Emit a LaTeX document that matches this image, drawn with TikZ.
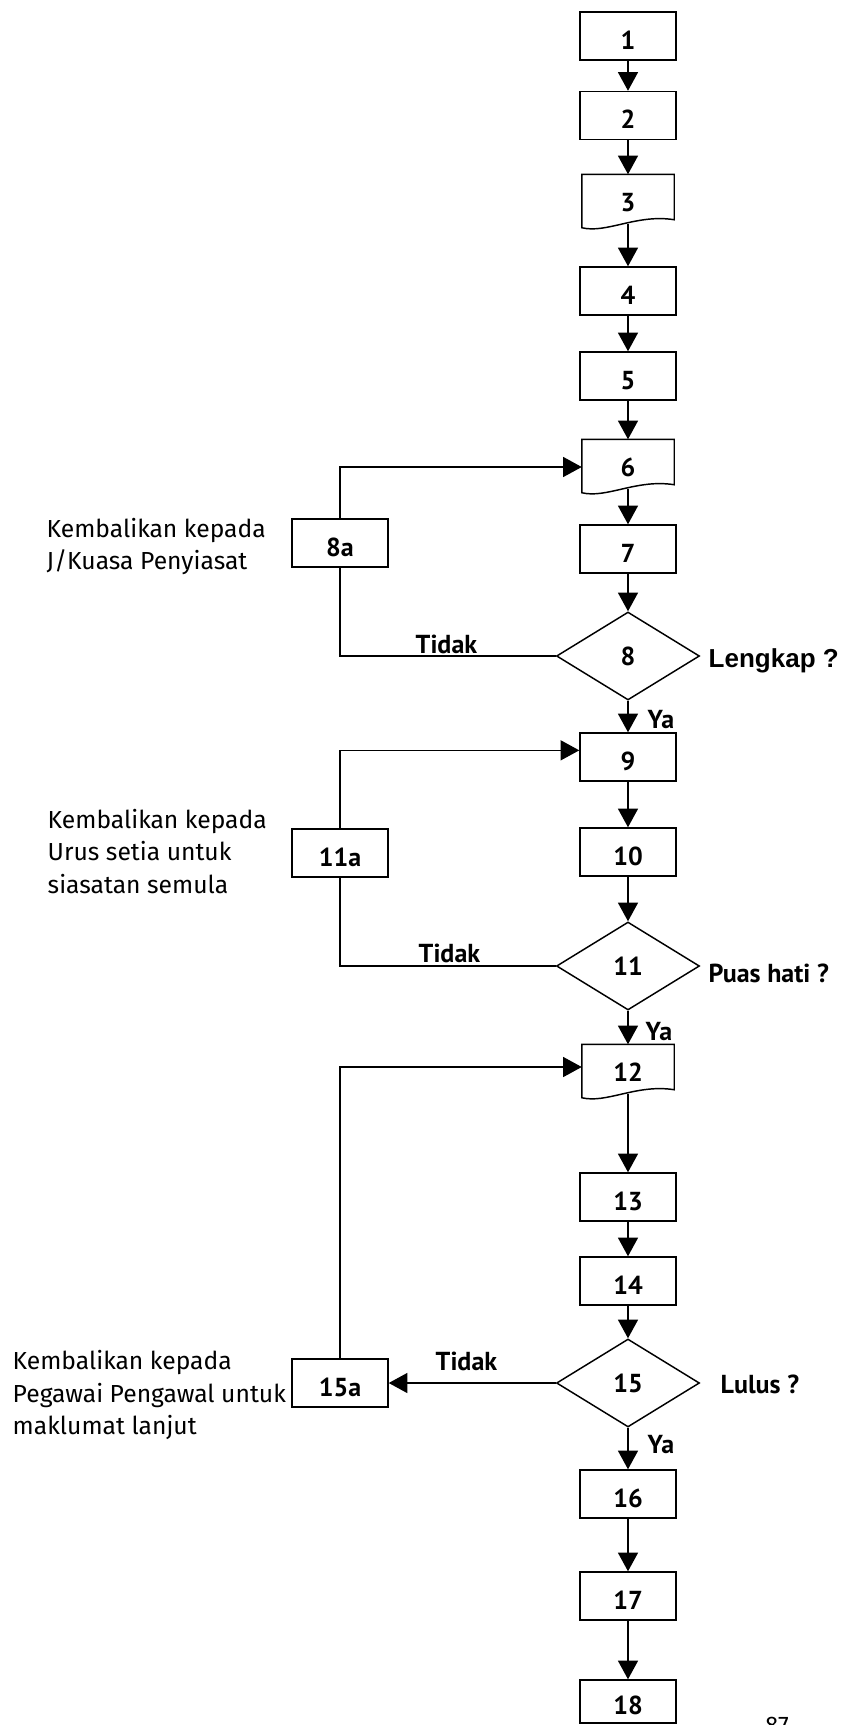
\documentclass[tikz,border=0pt]{standalone}
\usepackage{fontspec}
\setmainfont{Fira Sans}
\newfontfamily\lblfont{PT Sans}
\newfontfamily\arialfont{Liberation Sans}
\usetikzlibrary{arrows.meta,shapes.geometric,calc}
\newcommand{\docoutline}[1]{%
  \draw (#1.north west) -- (#1.north east) -- (#1.south east)
    .. controls ($(#1.south west)+(55,-6)$) and ($(#1.south west)+(25,14)$) ..
    ($(#1.south west)+(0,8)$) -- cycle;}
\begin{document}
\begin{tikzpicture}[x=0.75pt,y=-0.75pt,
  line width=1.1pt,
  arr/.style={-{Triangle[length=14pt,width=15pt]}},
  bfont/.style={font=\lblfont\bfseries\fontsize{19.5}{22}\selectfont},
  boxnode/.style={bfont,draw,rectangle,minimum width=72pt,minimum height=36pt,inner sep=0pt,text height=20.3pt,text depth=0.7pt},
  docnode/.style={bfont,rectangle,minimum width=68.25pt,minimum height=33pt,inner sep=0pt,text height=22.3pt,text depth=0.7pt},
  decnode/.style={bfont,draw,diamond,aspect=1.6,minimum width=107.25pt,minimum height=66pt,inner sep=0pt},
  lbl/.style={bfont,inner sep=0pt,anchor=base west},
  note/.style={font=\fontsize{18.5}{24.4}\selectfont,align=left,anchor=west,inner sep=0pt},
]
\useasboundingbox (0,0) rectangle (843,1725);
\fill[white] (0,0) rectangle (843,1725);

% main column
\node[boxnode] (b1) at (628,36) {1};
\node[boxnode] (b2) at (628,115.5) {2};
\node[docnode] (b3) at (628,197) {3};
\node[boxnode] (b4) at (628,291) {4};
\node[boxnode] (b5) at (628,376) {5};
\node[docnode] (b6) at (628,462) {6};
\node[boxnode] (b7) at (628,549) {7};
\node[decnode] (d8) at (628,656) {8};
\node[boxnode] (b9) at (628,757) {9};
\node[boxnode] (b10) at (628,852) {10};
\node[decnode] (d11) at (628,966) {11};
\node[docnode] (b12) at (628,1067) {12};
\node[boxnode] (b13) at (628,1197) {13};
\node[boxnode] (b14) at (628,1281) {14};
\node[decnode] (d15) at (628,1383) {15};
\node[boxnode] (b16) at (628,1494) {16};
\node[boxnode] (b17) at (628,1596) {17};
\node[boxnode,minimum height=32.25pt] (b18) at (628,1701.5) {18};

\docoutline{b3}
\docoutline{b6}
\docoutline{b12}

% side boxes
\node[boxnode] (b8a) at (340,543) {8a};
\node[boxnode] (b11a) at (340,853) {11a};
\node[boxnode] (b15a) at (340,1383) {15a};

% side notes
\node[note] (t8a) at (46,546.5) {Kembalikan kepada\\J/Kuasa Penyiasat};
\node[note] (t11a) at (47,851.5) {Kembalikan kepada\\Urus setia untuk\\siasatan semula};
\node[note] (t15a) at (12,1395) {Kembalikan kepada\\Pegawai Pengawal untuk\\maklumat lanjut};

% questions and labels
\node[font=\arialfont\bfseries\fontsize{19.5}{22}\selectfont,inner sep=0pt,anchor=base west] (q8) at (708,667) {Lengkap ?};
\node[lbl] (q11) at (708,982) {Puas hati ?};
\node[lbl] (q15) at (720,1393) {Lulus ?};
\node[lbl] (n8) at (415,653) {Tidak};
\node[lbl] (n11) at (418,962) {Tidak};
\node[lbl] (n15) at (435,1370) {Tidak};
\node[lbl] (y8) at (647,728) {Ya};
\node[lbl] (y11) at (645,1040) {Ya};
\node[lbl] (y15) at (647,1453) {Ya};

\node[font=\fontsize{18}{20}\selectfont,inner sep=0pt,anchor=north] (pg) at (777,1716) {87};

% main connectors
\draw[arr] (b1) -- (b2);
\draw[arr] (b2) -- (b3);
\draw[arr] ([yshift=-3pt]b3.south) -- (b4);
\draw[arr] (b4) -- (b5);
\draw[arr] (b5) -- (b6);
\draw[arr] ([yshift=-3pt]b6.south) -- (b7);
\draw[arr] (b7) -- (d8);
\draw[arr] (d8) -- (b9);
\draw[arr] (b9) -- (b10);
\draw[arr] (b10) -- (d11);
\draw[arr] (d11) -- (b12);
\draw[arr] ([yshift=-3pt]b12.south) -- (b13);
\draw[arr] (b13) -- (b14);
\draw[arr] (b14) -- (d15);
\draw[arr] (d15) -- (b16);
\draw[arr] (b16) -- (b17);
\draw[arr] (b17) -- (b18);

% loops
\draw (d8.west) -| (b8a.south);
\draw[arr] (b8a.north) |- ([yshift=-3.75pt]b6.west);
\draw (d11.west) -| (b11a.south);
\draw[arr] (b11a.north) |- ([yshift=5pt]b9.west);
\draw[arr] (d15.west) -- (b15a.east);
\draw[arr] (b15a.north) |- (b12.west);
\end{tikzpicture}
\end{document}
